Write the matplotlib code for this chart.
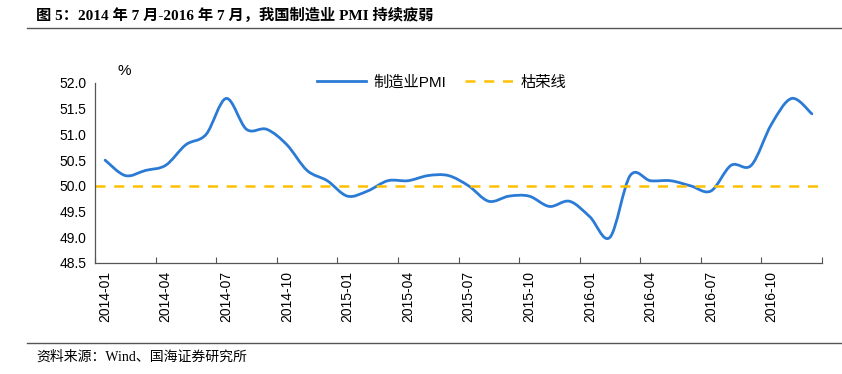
import matplotlib
matplotlib.use("Agg")
import matplotlib.pyplot as plt
from matplotlib.path import Path
from matplotlib.patches import PathPatch
from matplotlib.lines import Line2D
from matplotlib.ticker import FixedLocator, NullFormatter

plt.rcParams['font.family'] = ['Liberation Sans', 'Noto Sans CJK SC']

# monthly manufacturing PMI, 2014-01 .. 2016-12
months = [f"{y}-{m:02d}" for y in (2014, 2015, 2016) for m in range(1, 13)]
pmi = [50.5, 50.2, 50.3, 50.4, 50.8, 51.0, 51.7, 51.1, 51.1, 50.8, 50.3, 50.1,
       49.8, 49.9, 50.1, 50.1, 50.2, 50.2, 50.0, 49.7, 49.8, 49.8, 49.6, 49.7,
       49.4, 49.0, 50.2, 50.1, 50.1, 50.0, 49.9, 50.4, 50.4, 51.2, 51.7, 51.4]
boom_line = 50.0

BLUE = '#2B7BD6'
GOLD = '#FFC000'


def smooth_path(xs, ys):
    """ Excel-style smoothed line as cubic bezier segments through the points """
    pts = list(zip(xs, ys))
    n = len(pts)
    verts = [pts[0]]
    codes = [Path.MOVETO]
    for i in range(n - 1):
        p0 = pts[i - 1] if i > 0 else pts[i]
        p1 = pts[i]
        p2 = pts[i + 1]
        p3 = pts[i + 2] if i + 2 < n else pts[i + 1]
        c1 = (p1[0] + (p2[0] - p0[0]) / 6, p1[1] + (p2[1] - p0[1]) / 6)
        c2 = (p2[0] - (p3[0] - p1[0]) / 6, p2[1] - (p3[1] - p1[1]) / 6)
        verts += [c1, c2, p2]
        codes += [Path.CURVE4] * 3
    return Path(verts, codes)


fig = plt.figure(figsize=(8.42, 3.74), dpi=100)
ax = fig.add_axes([95 / 842, 1 - 263 / 374, 727 / 842, 180 / 374])

x = list(range(len(months)))
ax.add_patch(PathPatch(smooth_path(x, pmi), facecolor='none', edgecolor=BLUE,
                       lw=2.0, capstyle='round', joinstyle='round'))
ax.plot([-0.5, len(months) - 0.5], [boom_line, boom_line], color=GOLD, lw=1.8,
        dashes=(4, 3.5))

ax.set_xlim(-0.5, len(months) - 0.5)
ax.set_ylim(48.5, 52.0)
ax.set_yticks([48.5 + 0.5 * i for i in range(8)])
ax.set_yticklabels([f"{48.5 + 0.5 * i:.1f}" for i in range(8)], fontsize=10)
ax.tick_params(axis='y', length=0, pad=6)

ax.set_xticks(x[::3])
ax.set_xticklabels(months[::3], rotation=90, fontsize=10)
ax.tick_params(axis='x', which='major', length=0, pad=6)
ax.xaxis.set_minor_locator(FixedLocator([i - 0.5 for i in range(0, len(months) + 1, 3)]))
ax.xaxis.set_minor_formatter(NullFormatter())
ax.tick_params(axis='x', which='minor', length=4, width=0.8, color='#555555', direction='in')

for s in ('top', 'right'):
    ax.spines[s].set_visible(False)
for s in ('left', 'bottom'):
    ax.spines[s].set_color('#555555')
    ax.spines[s].set_linewidth(0.9)

ax.text(0.04, 1.03, '%', transform=ax.transAxes, fontsize=11, ha='center', va='bottom')

handles = [Line2D([], [], color=BLUE, lw=2.0),
           Line2D([], [], color=GOLD, lw=1.8, dashes=(4, 3.5))]
ax.legend(handles, ['制造业PMI', '枯荣线'], loc='upper center', bbox_to_anchor=(0.477, 1.12),
          ncol=2, frameon=False, fontsize=11, handlelength=3.2, columnspacing=1.2,
          handletextpad=0.5)

# title and source with rules
fig.text(36 / 842, 1 - 15 / 374, '图 5：2014 年 7 月-2016 年 7 月，我国制造业 PMI 持续疲弱',
         fontsize=11, fontweight='bold', va='center', ha='left',
         family=['Liberation Serif', 'Noto Sans CJK SC'])
fig.add_artist(Line2D([27 / 842, 1], [1 - 28 / 374] * 2, color='#555555', lw=1.0))
fig.add_artist(Line2D([27 / 842, 1], [1 - 343 / 374] * 2, color='#555555', lw=1.0))
fig.text(36 / 842, 1 - 357 / 374, '资料来源：Wind、国海证券研究所', fontsize=10, va='center',
         ha='left', family=['Liberation Serif', 'Noto Sans CJK SC'])

fig.savefig('out.png', dpi=100)
